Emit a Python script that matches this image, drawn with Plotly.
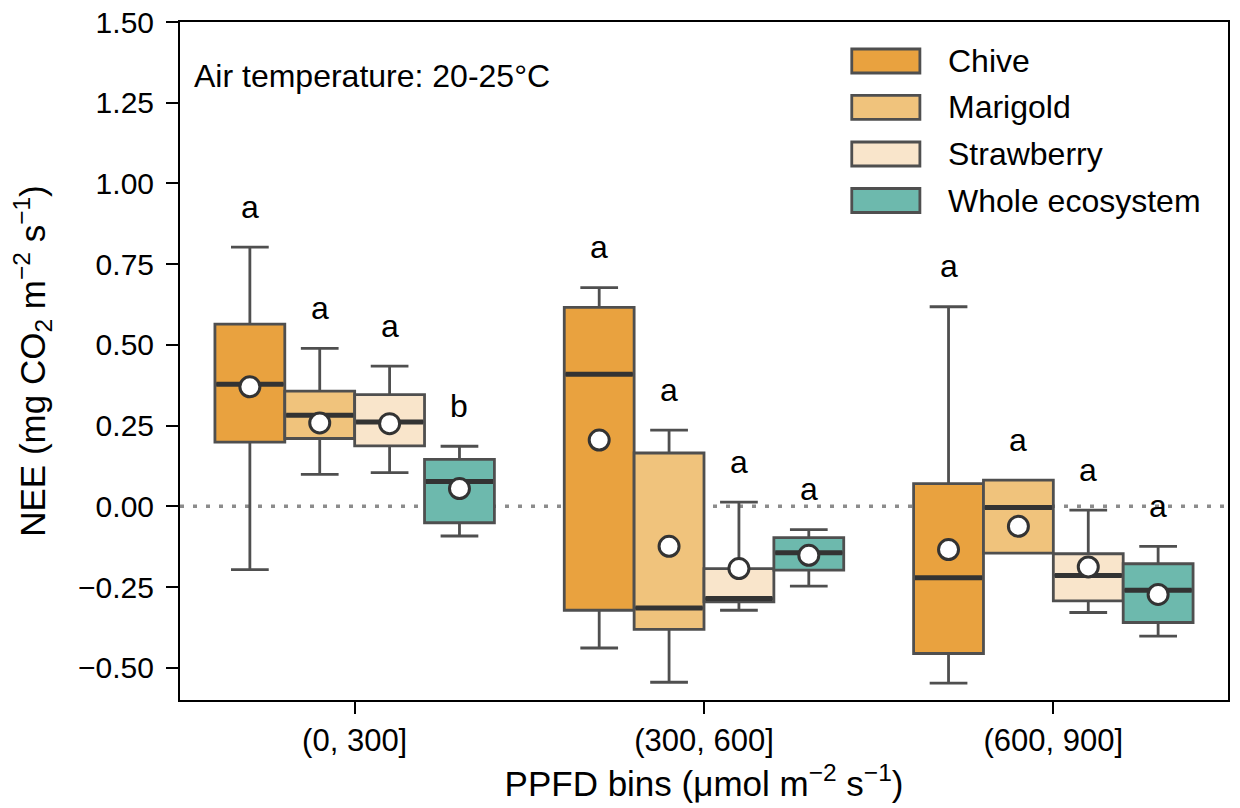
import plotly.graph_objects as go

# PPFD bins on the x axis and the four flux sources drawn in each bin
ppfd_bins = ["(0, 300]", "(300, 600]", "(600, 900]"]
sources = ["Chive", "Marigold", "Strawberry", "Whole ecosystem"]
fill_colors = ["#E9A23F", "#F0C37C", "#F9E5CB", "#6DB9AD"]

# Box statistics of NEE (mg CO2 m-2 s-1), one list per source, one value per bin
chive_lower = [-0.196, -0.439, -0.548]
chive_q1 = [0.199, -0.322, -0.456]
chive_median = [0.378, 0.409, -0.221]
chive_q3 = [0.564, 0.616, 0.070]
chive_upper = [0.803, 0.677, 0.618]
chive_mean = [0.370, 0.205, -0.134]

marigold_lower = [0.099, -0.545, -0.145]
marigold_q1 = [0.210, -0.381, -0.145]
marigold_median = [0.282, -0.315, -0.004]
marigold_q3 = [0.357, 0.165, 0.081]
marigold_upper = [0.489, 0.236, 0.081]
marigold_mean = [0.258, -0.124, -0.062]

strawberry_lower = [0.104, -0.322, -0.329]
strawberry_q1 = [0.187, -0.296, -0.293]
strawberry_median = [0.261, -0.286, -0.214]
strawberry_q3 = [0.346, -0.193, -0.147]
strawberry_upper = [0.434, 0.013, -0.012]
strawberry_mean = [0.256, -0.193, -0.188]

whole_lower = [-0.092, -0.247, -0.402]
whole_q1 = [-0.051, -0.198, -0.360]
whole_median = [0.077, -0.144, -0.260]
whole_q3 = [0.145, -0.097, -0.178]
whole_upper = [0.186, -0.072, -0.124]
whole_mean = [0.055, -0.152, -0.273]

# Significance letters (per bin, across sources)
chive_letters = ["a", "a", "a"]
marigold_letters = ["a", "a", "a"]
strawberry_letters = ["a", "a", "a"]
whole_letters = ["b", "a", "a"]

y_ticks = [-0.5, -0.25, 0.0, 0.25, 0.5, 0.75, 1.0, 1.25, 1.5]

stats = [
    (chive_lower, chive_q1, chive_median, chive_q3, chive_upper, chive_mean, chive_letters),
    (marigold_lower, marigold_q1, marigold_median, marigold_q3, marigold_upper, marigold_mean, marigold_letters),
    (strawberry_lower, strawberry_q1, strawberry_median, strawberry_q3, strawberry_upper, strawberry_mean, strawberry_letters),
    (whole_lower, whole_q1, whole_median, whole_q3, whole_upper, whole_mean, whole_letters),
]

FONT = "Liberation Sans, Arial, sans-serif"
FS_TEXT = 32
EDGE = "#4F4F4F"
MEDIAN_COLOR = "#333333"

n_src = len(sources)
box_w = 0.8 / n_src
offsets = [-0.4 + box_w * (k + 0.5) for k in range(n_src)]

fig = go.Figure()
annotations = []

for k, (name, color, st) in enumerate(zip(sources, fill_colors, stats)):
    lo, q1, med, q3, up, mean, letters = st
    xs = [i + offsets[k] for i in range(len(ppfd_bins))]
    fig.add_trace(go.Box(
        x=xs, q1=q1, median=med, q3=q3, lowerfence=lo, upperfence=up,
        width=box_w, whiskerwidth=0.54, fillcolor=color,
        line=dict(color=EDGE, width=2.8), boxpoints=False,
        name=name, showlegend=False, hoverinfo="skip",
    ))
    # thicker, darker median bars
    mx, my = [], []
    for x, m in zip(xs, med):
        mx += [x - box_w / 2 + 0.004, x + box_w / 2 - 0.004, None]
        my += [m, m, None]
    fig.add_trace(go.Scatter(
        x=mx, y=my, mode="lines", line=dict(color=MEDIAN_COLOR, width=5),
        showlegend=False, hoverinfo="skip",
    ))
    # mean markers
    fig.add_trace(go.Scatter(
        x=xs, y=mean, mode="markers",
        marker=dict(symbol="circle", size=20, color="white",
                    line=dict(color=MEDIAN_COLOR, width=3)),
        showlegend=False, hoverinfo="skip",
    ))
    # significance letters above the upper whisker
    for x, u, t in zip(xs, up, letters):
        annotations.append(dict(
            x=x, y=u + 0.125, xref="x", yref="y", text=t, showarrow=False,
            xanchor="center", yanchor="middle",
            font=dict(family=FONT, size=FS_TEXT, color="black"),
        ))

# zero reference line
shapes = [dict(
    type="line", xref="paper", yref="y", x0=0, x1=1, y0=0, y1=0,
    line=dict(color="#8C8C8C", width=3.5, dash="4px,9px"), layer="below",
)]

# legend drawn as patches + labels
leg_y = [0.9425, 0.874, 0.8053, 0.7367]
for name, color, yc in zip(sources, fill_colors, leg_y):
    shapes.append(dict(
        type="rect", xref="paper", yref="paper",
        x0=0.641, x1=0.706, y0=yc - 0.0177, y1=yc + 0.0177,
        fillcolor=color, line=dict(color=EDGE, width=2.8),
    ))
    annotations.append(dict(
        x=0.731, y=yc, xref="paper", yref="paper", text=name, showarrow=False,
        xanchor="left", yanchor="middle",
        font=dict(family=FONT, size=FS_TEXT, color="black"),
    ))

annotations.append(dict(
    x=0.011, y=0.9206, xref="paper", yref="paper", text="Air temperature: 20-25°C",
    showarrow=False, xanchor="left", yanchor="middle",
    font=dict(family=FONT, size=FS_TEXT, color="black"),
))

fig.update_layout(
    width=1240, height=808,
    margin=dict(l=180, r=12, t=22, b=108),
    paper_bgcolor="white", plot_bgcolor="white",
    font=dict(family=FONT, size=29.5, color="black"),
    shapes=shapes, annotations=annotations,
    showlegend=False,
)
fig.update_xaxes(
    range=[-0.5, 2.5], tickmode="array",
    tickvals=list(range(len(ppfd_bins))), ticktext=ppfd_bins,
    tickfont=dict(size=31),
    showline=True, linecolor="black", linewidth=2, mirror=True,
    ticks="outside", ticklen=12, tickwidth=2, tickcolor="black",
    showgrid=False, zeroline=False, automargin=False,
    title=dict(text="PPFD bins (μmol m<sup>−2</sup> s<sup>−1</sup>)", standoff=14),
)
fig.update_yaxes(
    range=[-0.6, 1.5], tickmode="array", tickvals=y_ticks,
    ticktext=[f"{v:.2f}".replace("-", "−") for v in y_ticks],
    tickfont=dict(size=30), ticklabelstandoff=6,
    showline=True, linecolor="black", linewidth=2, mirror=True,
    ticks="outside", ticklen=12, tickwidth=2, tickcolor="black",
    showgrid=False, zeroline=False, automargin=False,
    title=dict(text="NEE (mg CO<sub>2</sub> m<sup>−2</sup> s<sup>−1</sup>)", standoff=22),
)

fig.write_html("out.html")
